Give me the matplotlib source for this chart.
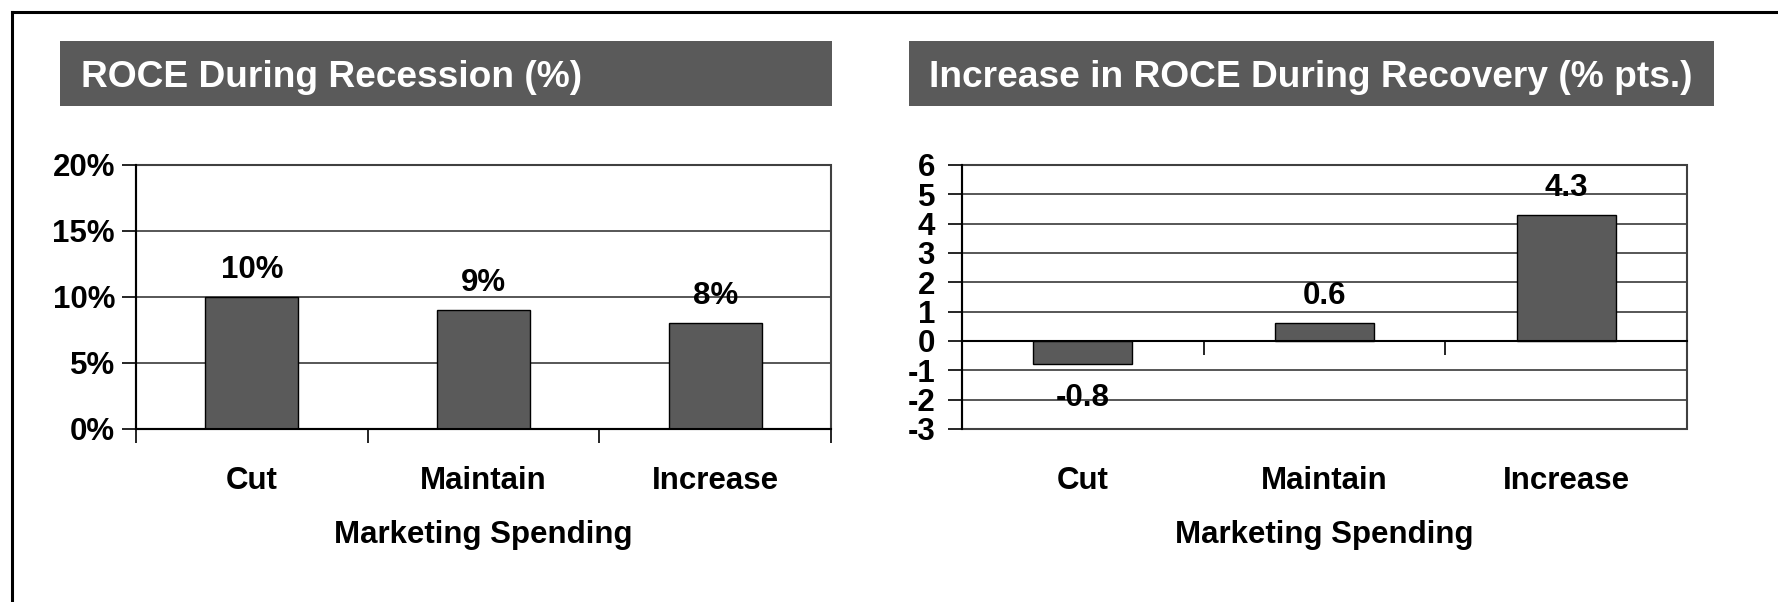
import matplotlib
matplotlib.use("Agg")
import matplotlib.pyplot as plt
from matplotlib.patches import Rectangle
from matplotlib.lines import Line2D
from matplotlib.ticker import FixedLocator, NullFormatter

# ---- data ----
categories = ["Cut", "Maintain", "Increase"]
recession_roce = [10, 9, 8]            # %
recovery_increase = [-0.8, 0.6, 4.3]   # % pts.
left_yticks = [0, 5, 10, 15, 20]
right_yticks = [-3, -2, -1, 0, 1, 2, 3, 4, 5, 6]
left_title = "ROCE During Recession (%)"
right_title = "Increase in ROCE During Recovery (% pts.)"
xlabel = "Marketing Spending"
left_value_labels = [f"{v}%" for v in recession_roce]
right_value_labels = [f"{v:.1f}" for v in recovery_increase]

W, H = 1778, 602
plt.rcParams['font.family'] = ['Liberation Sans', 'DejaVu Sans']
plt.rcParams['font.weight'] = 'bold'
FS = 22.5
BAR = '#5a5a5a'
GRID = '#3a3a3a'
BORDER = '#404040'

fig = plt.figure(figsize=(W / 100, H / 100), dpi=100)
fig.patch.set_facecolor('white')


def fx(px):
    return px / W


def fy(py):
    return 1 - py / H


# outer frame (top and left lines)
fig.add_artist(Line2D([fx(12), 1], [fy(12), fy(12)], color='black', lw=2.2, transform=fig.transFigure))
fig.add_artist(Line2D([fx(12), fx(12)], [fy(12), 0], color='black', lw=2.2, transform=fig.transFigure))


def title_box(x0, x1, text, tx):
    fig.add_artist(Rectangle((fx(x0), fy(106)), fx(x1 - x0), (106 - 41) / H,
                             transform=fig.transFigure, facecolor=BAR, edgecolor='none'))
    fig.text(fx(tx), fy(87), text, color='white', fontsize=26.7, fontweight='bold',
             ha='left', va='baseline')


title_box(60, 832, left_title, 81)
title_box(909, 1714, right_title, 929)


def make_axes(x0, x1, values, yticks, labels, width, zero_spine, pad_px):
    ax = fig.add_axes([fx(x0), fy(429), fx(x1 - x0), (429 - 165) / H])
    xs = list(range(len(categories)))
    ax.bar(xs, values, width=width, color=BAR, edgecolor='black', linewidth=1.0, zorder=2)
    ax.set_xlim(-0.5, len(categories) - 0.5)
    ax.set_ylim(yticks[0], yticks[-1])
    ax.set_yticks(yticks)
    if zero_spine:
        ax.set_yticklabels([str(t) for t in yticks])
    else:
        ax.set_yticklabels([f"{t}%" for t in yticks])
    ax.yaxis.grid(True, color=GRID, lw=1.2)
    ax.set_axisbelow(True)
    for s in ['top', 'right']:
        ax.spines[s].set_visible(False)
    ax.spines['left'].set_color('black')
    ax.spines['left'].set_linewidth(1.5)
    ax.spines['bottom'].set_color('black')
    ax.spines['bottom'].set_linewidth(1.5)
    if zero_spine:
        ax.spines['bottom'].set_position(('data', 0))
    ax.add_patch(Rectangle((0, 0), 1, 1, transform=ax.transAxes, fill=False,
                           edgecolor=BORDER, lw=1.5, clip_on=False, zorder=1))
    # x ticks at category boundaries
    bounds = [i - 0.5 for i in range(len(categories) + 1)]
    ax.xaxis.set_major_locator(FixedLocator(bounds))
    ax.xaxis.set_major_formatter(NullFormatter())
    ax.tick_params(axis='x', direction='out', length=10, width=1.2, color='black')
    ax.tick_params(axis='y', direction='out', length=10, width=1.2, color='black',
                   pad=pad_px * 0.72, labelsize=FS)
    for lab in ax.get_yticklabels():
        lab.set_fontweight('bold')
    # category labels
    trans = ax.get_xaxis_transform()
    for i, c in enumerate(categories):
        ax.text(i, -60 / 264, c, transform=trans, ha='center', va='baseline',
                fontsize=FS, fontweight='bold', clip_on=False)
    ax.text(1, -114 / 264, xlabel, transform=trans, ha='center', va='baseline',
            fontsize=FS, fontweight='bold', clip_on=False)
    # value labels
    for i, (v, t) in enumerate(zip(values, labels)):
        off = 19 if v >= 0 else -42
        ax.annotate(t, (i, v), xytext=(0, off), textcoords='offset pixels',
                    ha='center', va='baseline', fontsize=FS, fontweight='bold',
                    zorder=5, annotation_clip=False)
    return ax


make_axes(136, 831, recession_roce, left_yticks, left_value_labels, 0.40, False, 7)
make_axes(962, 1687, recovery_increase, right_yticks, right_value_labels, 0.41, True, 13)

fig.savefig('out.png', dpi=100, facecolor='white')
